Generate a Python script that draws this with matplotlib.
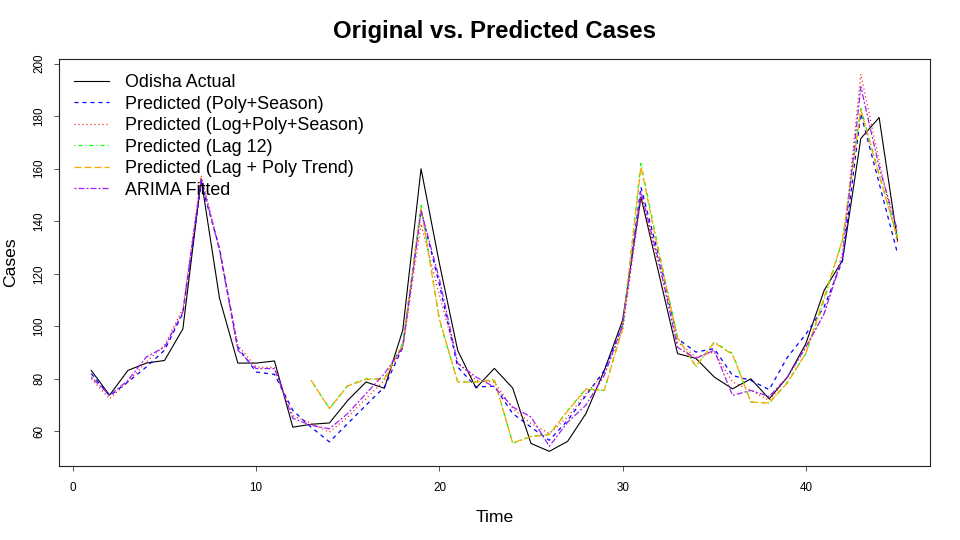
import numpy as np
import matplotlib
matplotlib.use("Agg")
import matplotlib.pyplot as plt

plt.rcParams['font.family'] = ['Liberation Sans', 'DejaVu Sans']
plt.rcParams['lines.scale_dashes'] = False

# data
time = np.arange(1, 46)

actual = [83.2, 73.8, 83.2, 86.0, 87.0, 99.0, 156.0, 110.7, 86.0, 86.0,
          86.8, 61.6, 62.7, 63.2, 71.8, 78.8, 76.4, 98.5, 160.0, 124.0,
          90.8, 76.5, 84.0, 76.5, 55.4, 52.4, 56.2, 66.8, 83.2, 102.3,
          149.3, 119.4, 89.6, 87.8, 80.7, 76.2, 80.0, 72.4, 80.7, 93.4,
          113.7, 125.1, 171.5, 179.5, 132.8]

poly_season = [82.0, 73.5, 78.8, 84.5, 90.9, 105.0, 154.5, 129.7, 92.0, 82.6,
               81.7, 68.0, 61.6, 56.0, 63.0, 70.0, 76.9, 92.0, 144.0, 116.0,
               84.5, 76.9, 77.2, 66.8, 61.6, 56.6, 64.2, 73.7, 83.2, 100.4,
               153.0, 126.0, 95.3, 90.2, 91.5, 81.3, 79.4, 75.9, 88.3, 97.0,
               107.4, 125.0, 181.0, 154.5, 127.8]

log_poly_season = [80.0, 72.4, 78.8, 86.4, 92.8, 106.7, 157.5, 129.0, 92.8, 84.5,
                   84.3, 66.0, 63.0, 59.7, 65.5, 72.5, 79.4, 92.0, 139.0, 112.0,
                   86.3, 79.4, 78.8, 68.7, 63.0, 59.2, 65.5, 74.4, 82.0, 98.5,
                   148.8, 123.0, 94.0, 88.3, 90.2, 78.8, 75.6, 71.8, 80.7, 92.1,
                   104.8, 127.8, 196.0, 163.0, 132.0]

time_lag = np.arange(13, 46)

lag12 = [79.4, 68.7, 77.5, 80.0, 80.0, 93.5, 146.0, 102.3, 78.8, 78.8,
         79.8, 55.5, 58.1, 58.9, 68.0, 76.2, 75.6, 99.7, 162.0, 128.0,
         95.9, 84.5, 94.0, 89.6, 71.2, 70.8, 78.8, 89.6, 110.0, 132.8,
         182.9, 158.0, 134.0]

lag_poly = [79.4, 68.7, 77.3, 79.8, 80.0, 93.0, 145.0, 102.8, 78.8, 78.8,
            79.5, 55.6, 58.0, 58.7, 67.8, 76.0, 75.6, 99.2, 160.7, 127.0,
            95.5, 84.8, 93.8, 89.2, 71.2, 70.8, 78.5, 89.8, 111.0, 133.0,
            182.3, 157.5, 133.5]

arima = [80.7, 73.7, 79.4, 88.3, 92.1, 105.4, 156.2, 129.0, 90.9, 83.9,
         83.9, 65.0, 62.3, 61.0, 66.8, 74.4, 82.0, 92.0, 144.0, 118.0,
         85.9, 80.7, 76.9, 69.3, 65.5, 54.3, 63.5, 70.0, 81.3, 100.4,
         151.0, 124.0, 92.0, 87.8, 90.9, 73.7, 75.6, 73.3, 80.7, 92.1,
         104.8, 126.4, 191.2, 160.7, 136.6]

# R lty patterns, px -> pt at 100 dpi
px = 0.72
lw = 0.9

fig = plt.figure(figsize=(9.6, 5.4), dpi=100)
ax = fig.add_axes([59 / 960, 1 - 466.3 / 540, (929.7 - 59) / 960, (466.3 - 58.7) / 540])

ax.plot(time, actual, color="black", lw=0.8, label="Odisha Actual")
ax.plot(time, poly_season, color="blue", lw=lw, dashes=(4 * px, 4 * px),
        label="Predicted (Poly+Season)")
ax.plot(time, log_poly_season, color="red", lw=lw, dashes=(1 * px, 3 * px),
        label="Predicted (Log+Poly+Season)")
ax.plot(time_lag, lag12, color="#00FF00", lw=lw,
        dashes=(1 * px, 3 * px, 4 * px, 3 * px), label="Predicted (Lag 12)")
ax.plot(time_lag, lag_poly, color="#FFA500", lw=lw, dashes=(7 * px, 3 * px),
        label="Predicted (Lag + Poly Trend)")
ax.plot(time, arima, color="#A020F0", lw=lw,
        dashes=(2 * px, 2 * px, 6 * px, 2 * px), label="ARIMA Fitted")

ax.set_xlim(-0.76, 46.76)
ax.set_ylim(46.7, 201.9)
ax.set_xticks([0, 10, 20, 30, 40])
ax.set_yticks(np.arange(60, 201, 20))
ax.tick_params(direction="out", length=3.6, width=0.7, color="#555555",
               labelsize=8.4)
ax.tick_params(axis="x", pad=8)
ax.tick_params(axis="y", pad=6)
for lab in ax.get_yticklabels():
    lab.set_rotation(90)
    lab.set_va("center")
for s in ax.spines.values():
    s.set_linewidth(0.8)
    s.set_color("#222222")

ax.set_xlabel("Time", fontsize=12.6, labelpad=11)
ax.set_ylabel("Cases", fontsize=12.6, labelpad=11.5)
ax.set_title("Original vs. Predicted Cases", fontsize=17.2, fontweight="bold", pad=15)

ax.legend(loc="upper left", bbox_to_anchor=(0.017, 0.962), frameon=False,
          fontsize=12.9, handlelength=1.95, handletextpad=0.9,
          labelspacing=0.25, borderpad=0, borderaxespad=0)

fig.savefig("out.png", dpi=100)
